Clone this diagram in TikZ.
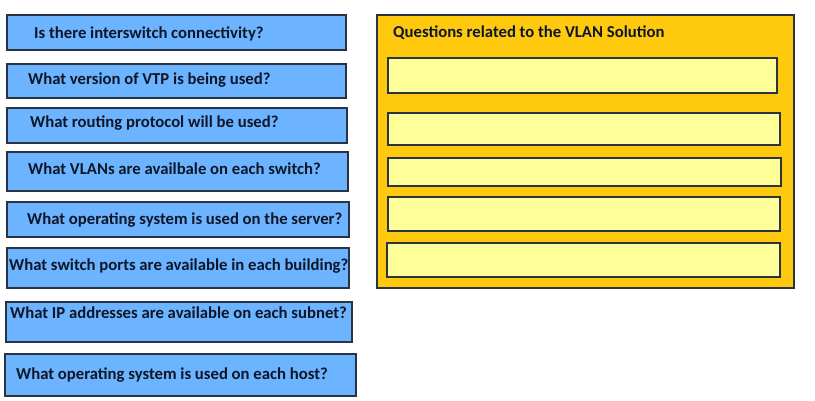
\documentclass[tikz,border=0pt]{standalone}
\usepackage{fontspec}
\setmainfont{Carlito}
\usepackage{xcolor}
\usepackage{tikz}
\definecolor{qblue}{RGB}{108,180,255}
\definecolor{qgold}{RGB}{255,201,14}
\definecolor{qpale}{RGB}{255,255,153}
\definecolor{qline}{RGB}{40,52,66}
\definecolor{qtext}{RGB}{14,22,40}

\begin{document}
\begin{tikzpicture}[
  x=1pt,y=-1pt,
  question/.style={draw=qline,fill=qblue,line width=1.1pt,inner sep=0pt},
  panel/.style={draw=qline,fill=qgold,line width=1.1pt,inner sep=0pt},
  slot/.style={draw=qline,fill=qpale,line width=1.1pt,inner sep=0pt},
  qlabel/.style={anchor=base west,inner sep=0pt,text=qtext,
    font=\fontsize{16.7}{18}\selectfont\bfseries}
]
\useasboundingbox (0,0) rectangle (815,401);
% question cards
\node[question,minimum width=339,minimum height=35] (card1) at (176.5,32.5) {};
\node[question,minimum width=339,minimum height=34] (card2) at (176.5,81) {};
\node[question,minimum width=340,minimum height=35] (card3) at (177,125.5) {};
\node[question,minimum width=341,minimum height=39] (card4) at (177.5,171.5) {};
\node[question,minimum width=342,minimum height=35] (card5) at (178,219.5) {};
\node[question,minimum width=342,minimum height=40] (card6) at (178,268) {};
\node[question,minimum width=346,minimum height=40] (card7) at (179,322) {};
\node[question,minimum width=351,minimum height=42] (card8) at (180.5,375) {};
\node[qlabel] (text1) at (34,39) {Is there interswitch connectivity?};
\node[qlabel] (text2) at (28,85) {What version of VTP is being used?};
\node[qlabel] (text3) at (30,128) {What routing protocol will be used?};
\node[qlabel] (text4) at (28,175) {What VLANs are availbale on each switch?};
\node[qlabel] (text5) at (27,225) {What operating system is used on the server?};
\node[qlabel] (text6) at (9,270) {What switch ports are available in each building?};
\node[qlabel] (text7) at (10,318) {What IP addresses are available on each subnet?};
\node[qlabel] (text8) at (16,379) {What operating system is used on each host?};
% answer panel
\node[panel,minimum width=417,minimum height=273] (answers) at (585.5,151.5) {};
\node[qlabel] (title) at (393,38) {Questions related to the VLAN Solution};
\node[slot,minimum width=389,minimum height=35] (slot1) at (582.5,75.5) {};
\node[slot,minimum width=392,minimum height=32] (slot2) at (584,129) {};
\node[slot,minimum width=393,minimum height=28] (slot3) at (584.5,172) {};
\node[slot,minimum width=392,minimum height=34] (slot4) at (584,214) {};
\node[slot,minimum width=393,minimum height=34] (slot5) at (583.5,260) {};
\end{tikzpicture}
\end{document}
